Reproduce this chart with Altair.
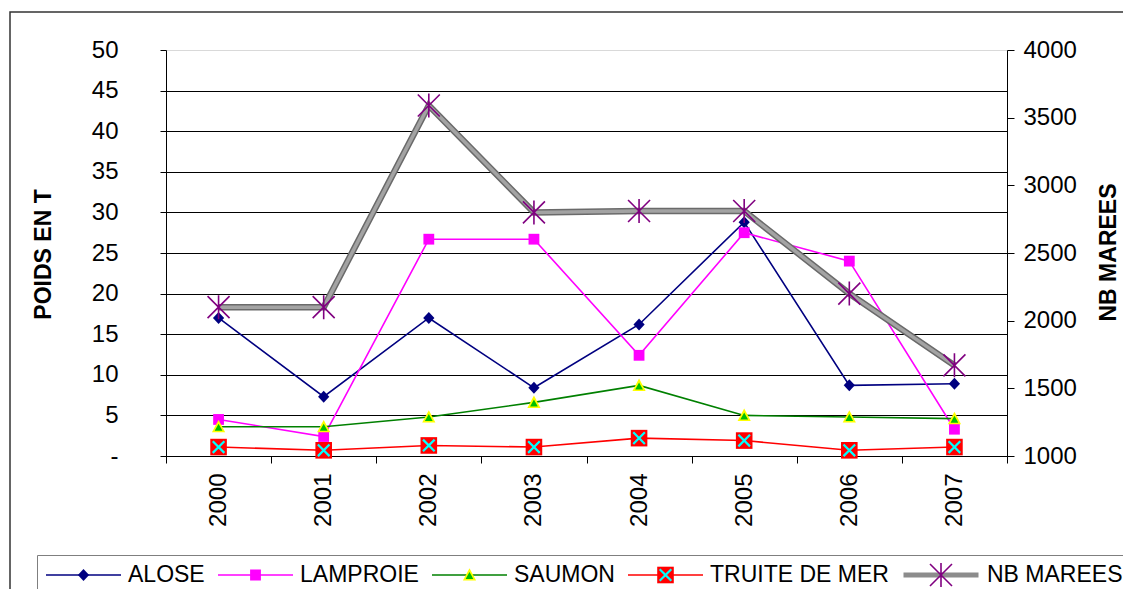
import altair as alt
import pandas as pd

# ---------------- data ----------------
years = ["2000", "2001", "2002", "2003", "2004", "2005", "2006", "2007"]
alose = [17.0, 7.3, 17.0, 8.4, 16.2, 28.8, 8.7, 8.9]
lamproie = [4.5, 2.4, 26.7, 26.7, 12.4, 27.5, 24.0, 3.3]
saumon = [3.6, 3.6, 4.8, 6.6, 8.7, 5.0, 4.8, 4.6]
truite = [1.1, 0.7, 1.3, 1.1, 2.2, 1.9, 0.7, 1.1]
nb_marees = [2100, 2100, 3590, 2800, 2810, 2810, 2200, 1670]

fish_names = ["ALOSE", "LAMPROIE", "SAUMON", "TRUITE DE MER"]
series_names = fish_names + ["NB MAREES"]
left_ticks = [0, 5, 10, 15, 20, 25, 30, 35, 40, 45, 50]
right_ticks = [1000, 1500, 2000, 2500, 3000, 3500, 4000]

fish_values = [alose, lamproie, saumon, truite]
fish_df = pd.DataFrame({
    "annee": [y for _ in fish_names for y in years],
    "serie": [n for n in fish_names for _ in years],
    "poids": [v for vals in fish_values for v in vals],
})
marees_df = pd.DataFrame({"annee": years, "marees": nb_marees})

# ---------------- styles ----------------
FONT = "Liberation Sans"
SZ = 5625           # symbol size -> custom path unit = 37.5 px
U = 37.5


def poly(pts):
    return "M" + "L".join(f"{x / U:.4f},{y / U:.4f}" for x, y in pts) + "Z"


def bar(x1, y1, x2, y2, hw):
    dx, dy = x2 - x1, y2 - y1
    ln = (dx * dx + dy * dy) ** 0.5
    nx, ny = -dy / ln * hw, dx / ln * hw
    return poly([(x1 + nx, y1 + ny), (x2 + nx, y2 + ny), (x2 - nx, y2 - ny), (x1 - nx, y1 - ny)])


DIAMOND = poly([(0, -6), (5.6, 0), (0, 6), (-5.6, 0)])
SQ_M = poly([(-5.4, -5.4), (5.4, -5.4), (5.4, 5.4), (-5.4, 5.4)])
TRI_Y = poly([(0, -6.8), (6.6, 5.6), (-6.6, 5.6)])
TRI_G = poly([(0, -2.9), (3.9, 4.1), (-3.9, 4.1)])
SQ_R = poly([(-8.3, -8.3), (8.3, -8.3), (8.3, 8.3), (-8.3, 8.3)])
X_CYAN = bar(-5.8, -5.8, 5.8, 5.8, 1.1) + bar(-5.8, 5.8, 5.8, -5.8, 1.1)
ASTER = bar(-11, -11, 11, 11, 0.8) + bar(-11, 11, 11, -11, 0.8) + bar(0, -12, 0, 12, 0.8)

line_colors = ["#000080", "#FF00FF", "#008000", "#FF0000", "#8C8C8C"]
line_widths = [1.6, 1.6, 1.6, 1.6, 5]
shapes_b = [DIAMOND, SQ_M, TRI_Y, SQ_R, ASTER]
fills_b = ["#000080", "#FF00FF", "#FFFF00", "#FF0000", "#800080"]
shapes_c = [DIAMOND, DIAMOND, TRI_G, X_CYAN, DIAMOND]
fills_c = ["transparent", "transparent", "#00C000", "#00FFFF", "transparent"]


def leg(label_color, box=False):
    kw = dict(orient="none", legendX=-129, legendY=505, direction="horizontal",
              title=None, labelFont=FONT, labelFontSize=23, labelColor=label_color,
              labelLimit=400, labelOffset=6, columnPadding=12, symbolSize=SZ,
              clipHeight=24, padding=8, symbolStrokeWidth=1.6)
    if box:
        kw["strokeColor"] = "#7f7f7f"
    return alt.Legend(**kw)


def width_enc(legend):
    return alt.StrokeWidth("serie:N", scale=alt.Scale(type="ordinal", domain=series_names, range=line_widths),
                           legend=legend)


x_axis = alt.Axis(title=None, labelAngle=270, labelAlign="right", labelBaseline="middle",
                  labelFontSize=24, labelPadding=10, tickSize=7, tickBand="extent",
                  domainColor="black", tickColor="black", labelColor="black", grid=False)
x_enc = alt.X("annee:N", sort=years,
              scale=alt.Scale(type="band", domain=years, paddingInner=0, paddingOuter=0),
              axis=x_axis)

left_axis = alt.Axis(
    values=left_ticks, title="POIDS EN T", titleFontSize=23, titleFontWeight="bold",
    titleAngle=270, titleX=-123, titleY=204, titleAlign="center", titleBaseline="middle",
    labelFontSize=24, labelPadding=42, tickSize=6, labelColor="black",
    labelExpr="datum.value == 0 ? '-\u00a0\u00a0\u00a0\u00a0' : datum.label",
    grid=True,
    gridColor={"condition": {"test": "datum.value == 50", "value": "#d9d9d9"}, "value": "#000000"},
    gridWidth=1, domainColor="black", tickColor="black")
y_left = alt.Y("poids:Q", scale=alt.Scale(domain=[0, 50]), axis=left_axis)

right_axis = alt.Axis(
    values=right_ticks, format="d", orient="right", title="NB MAREES", titleFontSize=23,
    titleFontWeight="bold", titleAngle=270, titleX=101, titleY=202, titleAlign="center",
    titleBaseline="middle", labelFontSize=24, labelPadding=9, tickSize=7,
    labelColor="black", grid=False, domainColor="black", tickColor="black")
y_right = alt.Y("marees:Q", scale=alt.Scale(domain=[1000, 4000]), axis=right_axis)

# ---------------- layers ----------------
frame = alt.Chart(alt.Data(values=[{"k": 1}])).mark_rect(
    filled=False, stroke="#333333", strokeWidth=1.5
).encode(x=alt.value(-156), x2=alt.value(1200), y=alt.value(-38), y2=alt.value(800))

leg_a = leg("black", True)
fish_lines = alt.Chart(fish_df).mark_line().encode(
    x=x_enc, y=y_left,
    stroke=alt.Stroke("serie:N", scale=alt.Scale(domain=series_names, range=line_colors), legend=leg_a),
    strokeWidth=width_enc(leg_a),
)

leg_b = leg("transparent")
fish_pts = alt.Chart(fish_df).mark_point(
    filled=True, size=SZ, opacity=1, stroke="transparent"
).encode(
    x=x_enc, y=y_left,
    shape=alt.Shape("serie:N", scale=alt.Scale(domain=series_names, range=shapes_b), legend=leg_b),
    fill=alt.Fill("serie:N", scale=alt.Scale(domain=series_names, range=fills_b), legend=leg_b),
    strokeWidth=width_enc(leg_b),
)

leg_c = leg("transparent")
fish_over = alt.Chart(fish_df).transform_filter(
    "datum.serie == 'SAUMON' || datum.serie == 'TRUITE DE MER'"
).mark_point(
    filled=True, size=SZ, opacity=1, stroke="transparent"
).encode(
    x=x_enc, y=y_left,
    shape=alt.Shape("serie:N", scale=alt.Scale(domain=series_names, range=shapes_c), legend=leg_c),
    fill=alt.Fill("serie:N", scale=alt.Scale(domain=series_names, range=fills_c), legend=leg_c),
    strokeWidth=width_enc(leg_c),
)

indep = dict(shape="independent", fill="independent", stroke="independent", strokeWidth="independent")
main_group = alt.layer(frame, fish_lines, fish_pts, fish_over).resolve_scale(**indep).resolve_legend(**indep)

mar_base = alt.Chart(marees_df)
mar_outer = mar_base.mark_line(color="#6a6a6a", strokeWidth=6.5).encode(x=x_enc, y=y_right)
mar_inner = mar_base.mark_line(color="#a3a3a3", strokeWidth=3.5).encode(x=x_enc, y=y_right)
mar_pts = mar_base.mark_point(
    filled=True, size=SZ, opacity=1, shape=ASTER, fill="#800080", stroke="transparent"
).encode(x=x_enc, y=y_right)
right_group = alt.layer(mar_outer, mar_inner, mar_pts)

chart = alt.layer(main_group, right_group).resolve_scale(y="independent").properties(
    width=841, height=406,
    autosize=alt.AutoSizeParams(type="none"),
    padding={"left": 158, "top": 42, "right": 116, "bottom": 133},
    background="white",
).configure_view(stroke=None).configure(font=FONT).configure_axis(
    labelFont=FONT, titleFont=FONT, titleColor="black"
)

chart.save("out.html", embed_options={"renderer": "svg", "actions": False})
